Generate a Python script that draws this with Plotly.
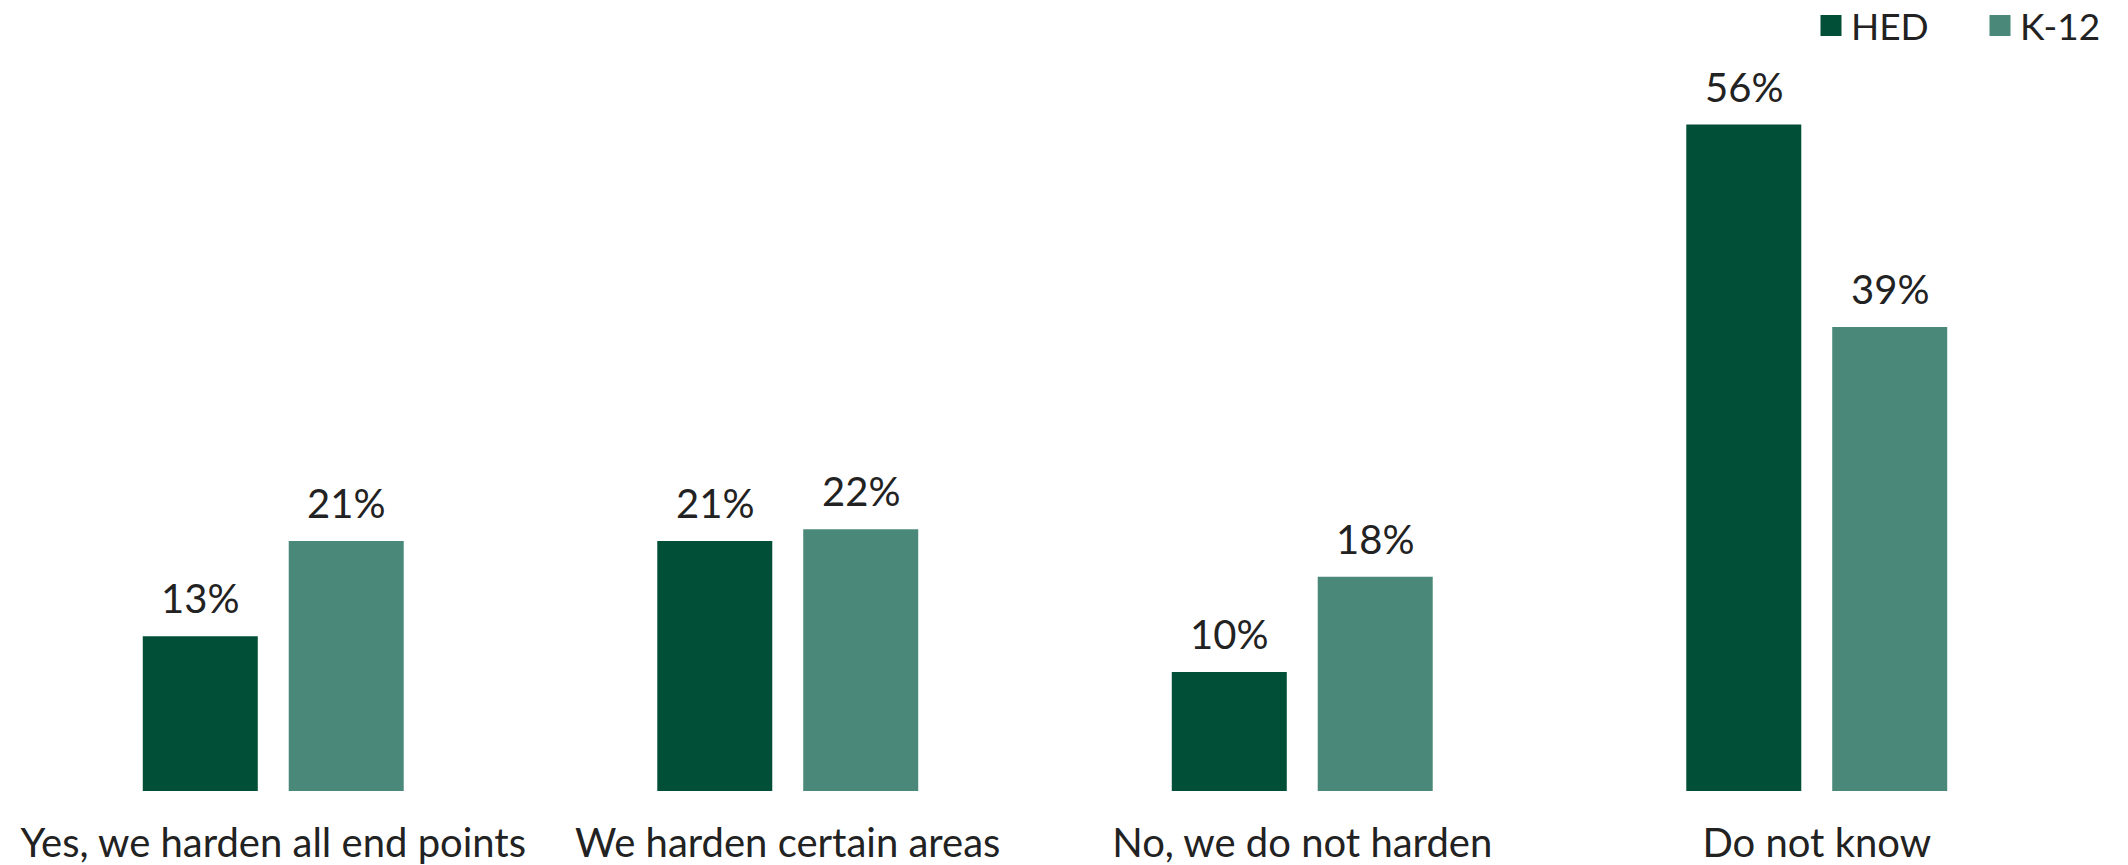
import plotly.graph_objects as go

categories = ["Yes, we harden all end points", "We harden certain areas", "No, we do not harden", "Do not know"]
series_names = ["HED", "K-12"]
hed_values = [13, 21, 10, 56]
k12_values = [21, 22, 18, 39]
colors = ["#024F38", "#4A8979"]

W, H = 2128, 865
ML, MR, MT, MB = 16, 54, 77, 74
BARGAP = 0.4327
GROUPGAP = 0.212
FONT = "Lato"
TEXT_COLOR = "#222222"

fig = go.Figure()
for name, vals, col in zip(series_names, [hed_values, k12_values], colors):
    fig.add_trace(go.Bar(
        x=categories, y=vals, name=name,
        marker=dict(color=col, line=dict(width=0)),
        hoverinfo="skip", showlegend=False,
    ))
# legend entries (larger square swatches)
for name, col in zip(series_names, colors):
    fig.add_trace(go.Scatter(
        x=[None], y=[None], name=name, mode="markers",
        marker=dict(symbol="square", size=16, color=col, line=dict(color=col, width=5)),
        showlegend=True, hoverinfo="skip",
    ))

# data labels as annotations positioned over each bar
plot_w = W - ML - MR
slot_px = plot_w / len(categories) * (1 - BARGAP) / 2
offsets = [-slot_px / 2, slot_px / 2]
for vals, off in zip([hed_values, k12_values], offsets):
    for c, v in zip(categories, vals):
        fig.add_annotation(
            x=c, y=v, text=f"{v}%", showarrow=False,
            xshift=off, yshift=12, yanchor="bottom",
            font=dict(family=FONT, size=40, color=TEXT_COLOR),
        )

plot_h = H - MT - MB
fig.update_layout(
    width=W, height=H,
    margin=dict(l=ML, r=MR, t=MT, b=MB, autoexpand=False),
    paper_bgcolor="white", plot_bgcolor="white",
    barmode="group", bargap=BARGAP, bargroupgap=GROUPGAP,
    font=dict(family=FONT, size=40, color=TEXT_COLOR),
    showlegend=True,
    legend=dict(
        orientation="h", xref="container", yref="paper",
        x=1811 / W, xanchor="left", y=1 + (MT - 26) / plot_h, yanchor="middle",
        font=dict(family=FONT, size=37, color=TEXT_COLOR),
        traceorder="normal", entrywidth=124, entrywidthmode="pixels",
    ),
    xaxis=dict(showline=False, showgrid=False, ticks="", zeroline=False,
               tickfont=dict(family=FONT, size=40, color=TEXT_COLOR), ticklabelstandoff=25),
    yaxis=dict(range=[0, 60], visible=False, showgrid=False, zeroline=False),
)

fig.write_html("out.html", config={"displayModeBar": False},
               post_script="document.body.style.margin='0';")
